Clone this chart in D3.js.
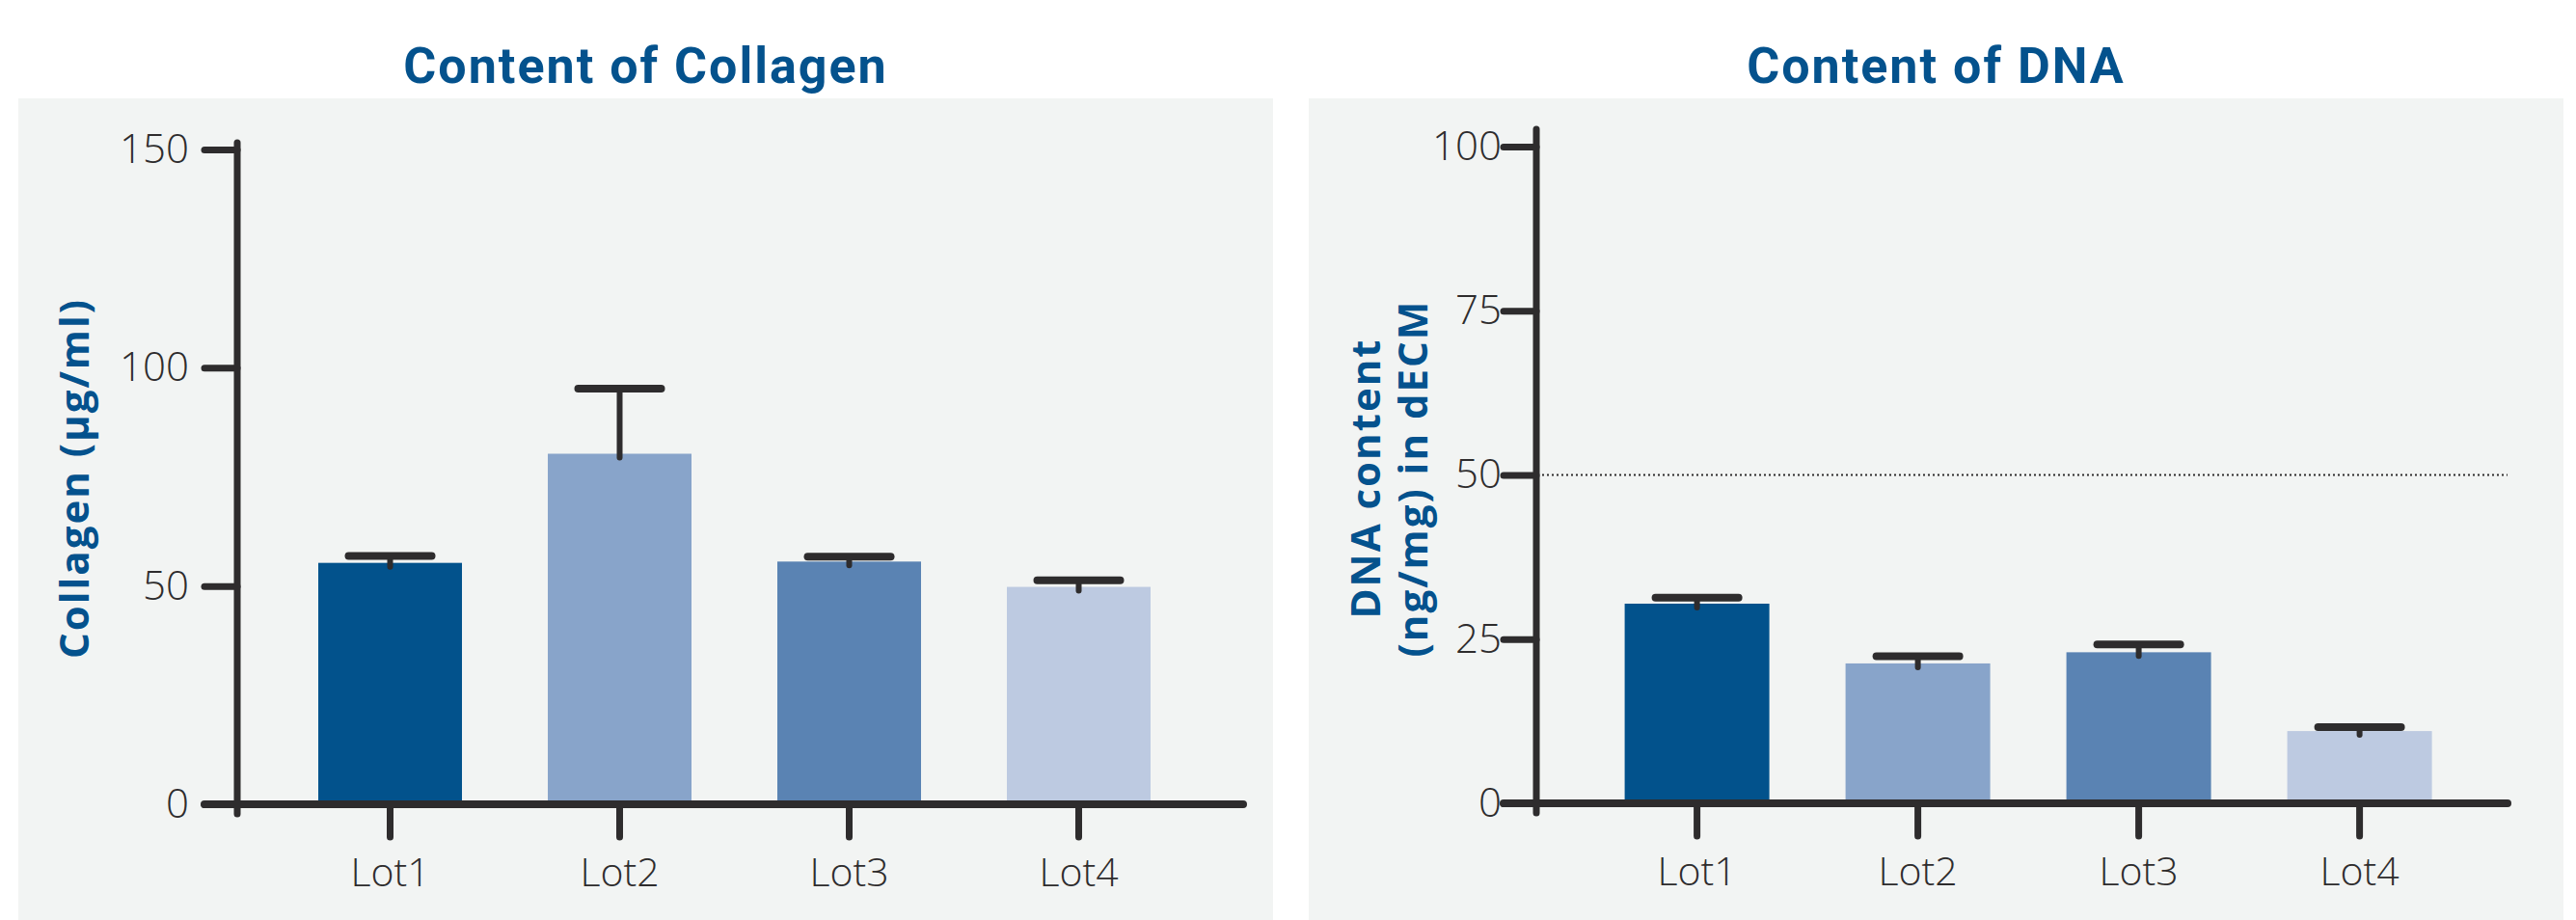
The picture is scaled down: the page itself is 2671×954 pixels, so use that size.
<!DOCTYPE html>
<html>
<head>
<meta charset="utf-8">
<script src="https://cdn.jsdelivr.net/npm/d3@7"></script>
<style>
  html, body { margin: 0; padding: 0; background: #ffffff; }
  svg { display: block; }
  .tick text { font-family: "Open Sans", Lato, sans-serif; font-weight: 300; fill: #2e2c2d; }
</style>
</head>
<body>
<svg id="chart" width="2671" height="954"></svg>
<script>
// values
var lots = ["Lot1", "Lot2", "Lot3", "Lot4"];
var collagenMean = [55.3, 80.3, 55.6, 49.8];
var collagenErr = [1.6, 14.9, 1.1, 1.5];
var collagenTicks = [0, 50, 100, 150];
var dnaMean = [30.4, 21.3, 23.0, 11.0];
var dnaErr = [0.9, 1.1, 1.2, 0.6];
var dnaTicks = [0, 25, 50, 75, 100];
var dnaLimit = [50];
var barColors = ["#02528c", "#88a4ca", "#5a83b3", "#bdcae1"];

var ink = "#2e2c2d";
var blue = "#04528d";

var svg = d3.select("#chart");

function drawChart(cfg) {
    var g = svg.append("g");

    // grey panel
    g.append("rect")
        .attr("x", cfg.panel[0])
        .attr("y", 102)
        .attr("width", cfg.panel[1] - cfg.panel[0])
        .attr("height", 954 - 102)
        .attr("fill", "#f2f4f3");

    // title
    g.append("text")
        .attr("x", (cfg.panel[0] + cfg.panel[1]) / 2)
        .attr("y", 68)
        .attr("dy", "0.35em")
        .attr("text-anchor", "middle")
        .style("font-family", "Roboto, 'Open Sans', sans-serif")
        .style("font-weight", 700)
        .style("font-size", "52px")
        .style("letter-spacing", "2px")
        .style("fill", blue)
        .text(cfg.title);

    var y = d3.scaleLinear()
        .domain([0, cfg.ymax])
        .range([cfg.y0, cfg.ytop]);

    var x = d3.scaleBand()
        .domain(lots)
        .range([cfg.axisX, cfg.axisX + cfg.step * (4 - cfg.pin + 2 * cfg.pout)])
        .paddingInner(cfg.pin)
        .paddingOuter(cfg.pout);

    // reference line
    if (cfg.limit) {
        g.selectAll(".limit")
            .data(cfg.limit)
            .enter().append("line")
            .attr("class", "limit")
            .attr("x1", cfg.axisX + 6)
            .attr("x2", cfg.xEnd)
            .attr("y1", function (d) { return y(d); })
            .attr("y2", function (d) { return y(d); })
            .attr("stroke", ink)
            .attr("stroke-width", 2)
            .attr("stroke-dasharray", "2,3");
    }

    var rows = lots.map(function (lot, i) {
        return { lot: lot, mean: cfg.mean[i], err: cfg.err[i], color: barColors[i] };
    });

    // bars
    g.selectAll(".bar")
        .data(rows)
        .enter().append("rect")
        .attr("class", "bar")
        .attr("x", function (d) { return x(d.lot); })
        .attr("y", function (d) { return y(d.mean); })
        .attr("width", x.bandwidth())
        .attr("height", function (d) { return y(0) - y(d.mean); })
        .attr("fill", function (d) { return d.color; });

    // error bars (upper only)
    var capHalf = 43;
    g.selectAll(".err")
        .data(rows)
        .enter().append("line")
        .attr("class", "err")
        .attr("x1", function (d) { return x(d.lot) + x.bandwidth() / 2; })
        .attr("x2", function (d) { return x(d.lot) + x.bandwidth() / 2; })
        .attr("y1", function (d) { return y(d.mean) + 4; })
        .attr("y2", function (d) { return y(d.mean + d.err); })
        .attr("stroke", ink)
        .attr("stroke-width", 6)
        .attr("stroke-linecap", "round");

    g.selectAll(".cap")
        .data(rows)
        .enter().append("line")
        .attr("class", "cap")
        .attr("x1", function (d) { return x(d.lot) + x.bandwidth() / 2 - capHalf; })
        .attr("x2", function (d) { return x(d.lot) + x.bandwidth() / 2 + capHalf; })
        .attr("y1", function (d) { return y(d.mean + d.err); })
        .attr("y2", function (d) { return y(d.mean + d.err); })
        .attr("stroke", ink)
        .attr("stroke-width", 8)
        .attr("stroke-linecap", "round");

    // y axis
    var yAxis = g.append("g")
        .attr("transform", "translate(" + cfg.axisX + ",0)")
        .call(d3.axisLeft(y).tickValues(cfg.ticks).tickSize(34).tickPadding(cfg.tickPad));
    yAxis.select(".domain").remove();
    yAxis.selectAll(".tick line")
        .attr("stroke", ink)
        .attr("stroke-width", 7)
        .attr("stroke-linecap", "round");
    yAxis.selectAll(".tick text")
        .style("font-size", "42px");

    g.append("line")
        .attr("x1", cfg.axisX).attr("x2", cfg.axisX)
        .attr("y1", cfg.yLineTop).attr("y2", cfg.y0 + 10)
        .attr("stroke", ink)
        .attr("stroke-width", 7)
        .attr("stroke-linecap", "round");

    // x axis
    var xAxis = g.append("g")
        .attr("transform", "translate(0," + cfg.y0 + ")")
        .call(d3.axisBottom(x).tickSize(34).tickPadding(22));
    xAxis.select(".domain").remove();
    xAxis.selectAll(".tick line")
        .attr("stroke", ink)
        .attr("stroke-width", 7)
        .attr("stroke-linecap", "round");
    xAxis.selectAll(".tick text")
        .style("font-size", "41px");

    g.append("line")
        .attr("x1", cfg.axisX - 34).attr("x2", cfg.xEnd)
        .attr("y1", cfg.y0).attr("y2", cfg.y0)
        .attr("stroke", ink)
        .attr("stroke-width", 8)
        .attr("stroke-linecap", "round");

    // y label
    var lab = g.append("text")
        .attr("transform", "translate(" + cfg.labelX + "," + 496 + ") rotate(-90)")
        .attr("text-anchor", "middle")
        .style("font-family", "'Open Sans', sans-serif")
        .style("font-weight", 700)
        .style("font-size", "42px")
        .style("letter-spacing", "2px")
        .style("fill", blue);
    cfg.label.forEach(function (line, i) {
        lab.append("tspan")
            .attr("x", 0)
            .attr("dy", i == 0 ? (0.35 - (cfg.label.length - 1) * 0.58) + "em" : "1.16em")
            .text(line);
    });
}

drawChart({
    panel: [19, 1320],
    title: "Content of Collagen",
    label: ["Collagen (µg/ml)"],
    labelX: 77,
    mean: collagenMean,
    err: collagenErr,
    ticks: collagenTicks,
    ymax: 150,
    y0: 834,
    ytop: 155,
    yLineTop: 148,
    axisX: 246,
    xEnd: 1289,
    step: 238,
    pin: 0.374,
    pout: 0.353,
    tickPad: 16
});

drawChart({
    panel: [1357, 2658],
    title: "Content of DNA",
    label: ["DNA content", "(ng/mg) in dECM"],
    labelX: 1441,
    mean: dnaMean,
    err: dnaErr,
    ticks: dnaTicks,
    ymax: 100,
    y0: 833,
    ytop: 152,
    yLineTop: 134,
    axisX: 1593,
    xEnd: 2600,
    step: 229,
    pin: 0.345,
    pout: 0.4,
    tickPad: 2,
    limit: dnaLimit
});
</script>
</body>
</html>
